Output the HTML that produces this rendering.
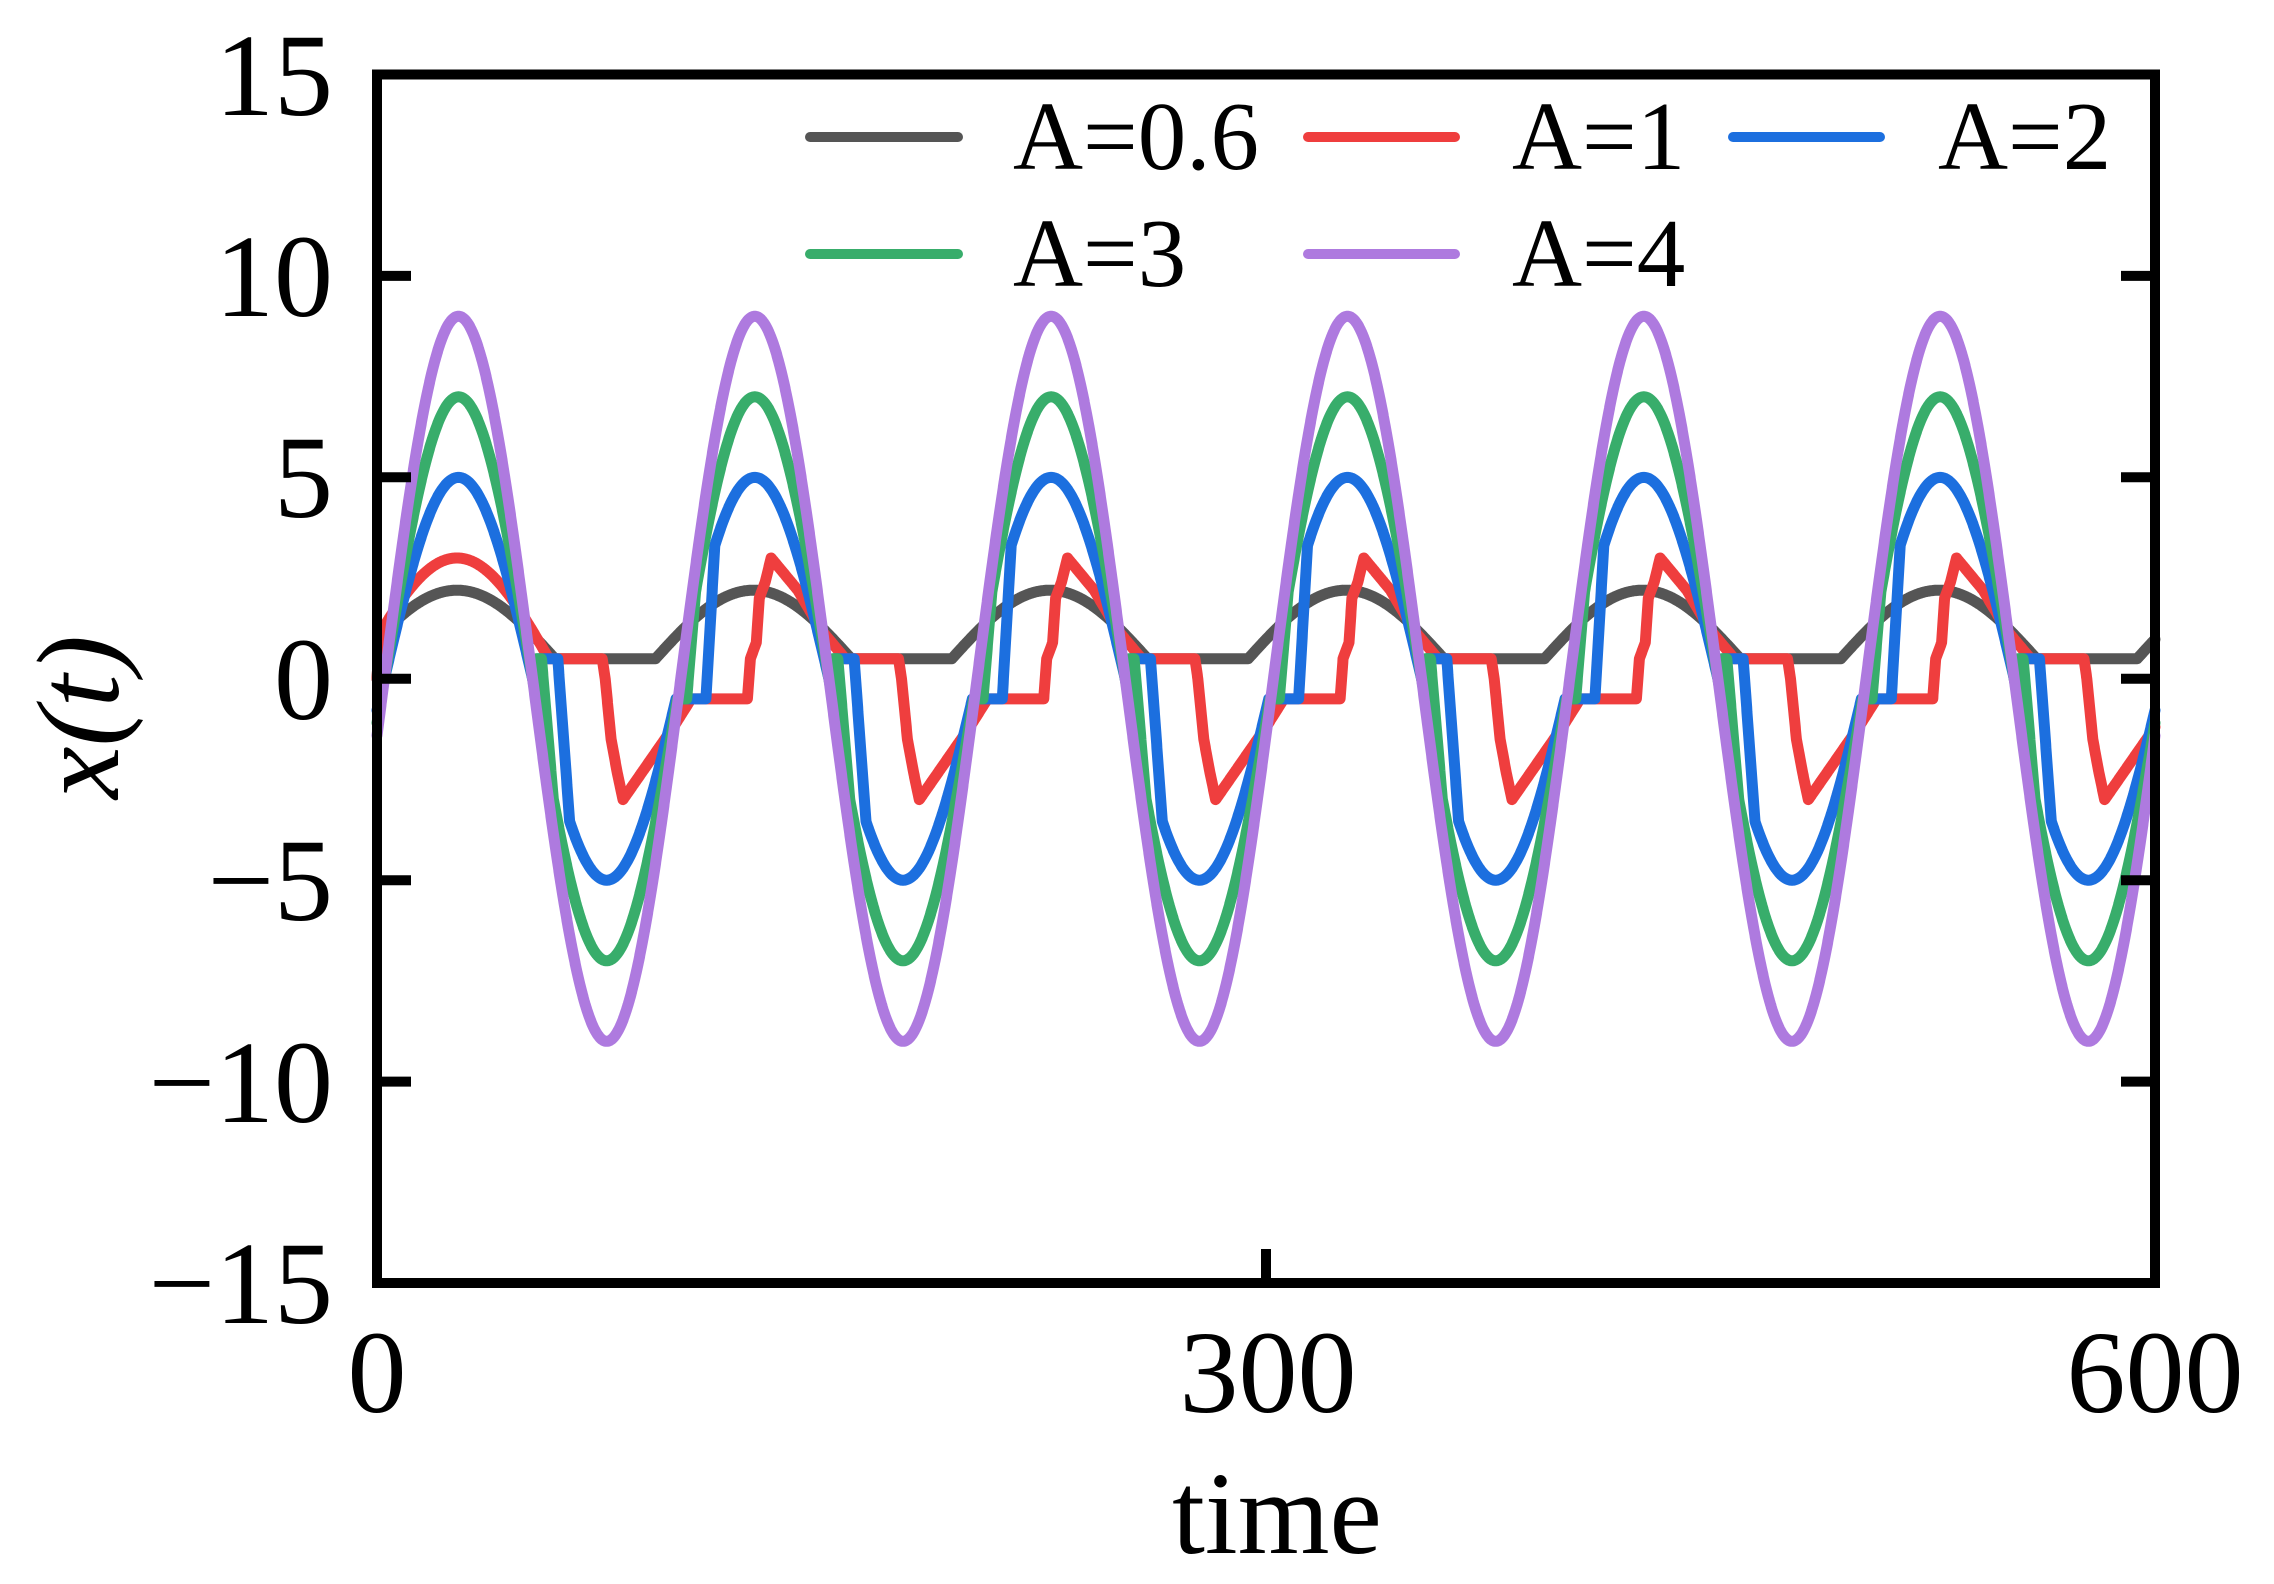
<!DOCTYPE html>
<html><head><meta charset="utf-8"><style>
html,body{margin:0;padding:0;background:#fff;}
svg{display:block;}
text{font-family:"Liberation Serif",serif;fill:#000;}
</style></head><body>
<svg id="s" width="2274" height="1584" viewBox="0 0 2274 1584" xmlns="http://www.w3.org/2000/svg">
<g id="curves" fill="none" stroke-width="11" stroke-linejoin="round" stroke-linecap="round"></g>
<g stroke="#000" stroke-width="10" fill="none">
<rect x="377" y="74.5" width="1778" height="1208.5"/>
<path d="M377 275.9h34M377 477.3h34M377 678.8h34M377 880.2h34M377 1081.6h34M2155 275.9h-34M2155 477.3h-34M2155 678.8h-34M2155 880.2h-34M2155 1081.6h-34M1266 1283v-34"/>
</g>
<g font-size="118" text-anchor="end">
<text x="333" y="115">15</text>
<text x="333" y="316">10</text>
<text x="333" y="517">5</text>
<text x="333" y="719">0</text>
<text x="333" y="920">−5</text>
<text x="333" y="1122">−10</text>
<text x="333" y="1323">−15</text>
</g>
<g font-size="118" text-anchor="middle">
<text x="377" y="1412">0</text>
<text x="1268" y="1412">300</text>
<text x="2155" y="1412">600</text>
<text x="1277" y="1553">time</text>
</g>
<text font-size="118" font-style="italic" text-anchor="middle" transform="translate(118,717) rotate(-90)">x(t)</text>
<g stroke-width="10" stroke-linecap="round">
<line x1="810" y1="137" x2="958" y2="137" stroke="#555555"/>
<line x1="1308" y1="137" x2="1455" y2="137" stroke="#ef3e3e"/>
<line x1="1733" y1="137" x2="1880" y2="137" stroke="#1c6fdf"/>
<line x1="810" y1="254" x2="958" y2="254" stroke="#38ad6b"/>
<line x1="1308" y1="254" x2="1455" y2="254" stroke="#ae7adf"/>
</g>
<g font-size="97">
<text x="1013" y="169">A=0.6</text>
<text x="1512" y="169">A=1</text>
<text x="1938" y="169">A=2</text>
<text x="1013" y="286">A=3</text>
<text x="1512" y="286">A=4</text>
</g>
</svg>
<script>
(function(){
var X=function(t){return 377+t*1778/600;};
var Y=function(v){return 678.8-v*40.28;};
var TW=2*Math.PI;
function base(a,t){return a*Math.sin(TW*(t-2.5)/100);}
function gray(t){
  if(t<0.8) return t/0.8*0.95;
  var p=((t-27)%100+100)%100; if(p>50)p-=100;
  if(Math.abs(p)<33) return 0.5+1.7*Math.cos(Math.PI/2*p/33);
  return 0.5;
}
function lerp(pts,p){
  for(var i=0;i<pts.length-1;i++){
    if(p>=pts[i][0]&&p<=pts[i+1][0]){var f=(p-pts[i][0])/(pts[i+1][0]-pts[i][0]);return pts[i][1]+f*(pts[i+1][1]-pts[i][1]);}
  }
  return pts[pts.length-1][1];
}
var redP=[[0,-1.2],[6,-0.5],[25,-0.5],[26,0.5],[28,0.9],[29,2.0],[31,2.4],[33,3.0],[42,2.2],[50,1.2],[58,0.5],[76,0.5],[77,0],[79,-1.5],[81,-2.3],[83,-3.0],[100,-1.2]];
function red(t){
  if(t<1) return t*1.2;
  if(t<58) return 0.5+2.5*Math.cos(Math.PI/2*(t-27)/31);
  return lerp(redP,t%100);
}
function hold(a,t,tEndDown,tEndUp){
  var b=base(a,t); if(t<20) return b;
  var p=t%100;
  var d=2.5+50+100/TW*Math.asin(0.5/a);
  var u=2.5+100-100/TW*Math.asin(0.5/a);
  if(p>=d&&p<tEndDown) return 0.5;
  if(p>=tEndDown&&p<tEndDown+4){var f=(p-tEndDown)/4;return 0.5+f*(base(a,t-p+tEndDown+4)-0.5);}
  var q=p<20?p+100:p;
  if(q>=u&&q<tEndUp) return -0.5;
  if(q>=tEndUp&&q<tEndUp+3){var f2=(q-tEndUp)/3;return -0.5+f2*(base(a,t-q+tEndUp+3)+0.5);}
  return b;
}
var series=[
 ["#555555",gray],
 ["#ef3e3e",red],
 ["#1c6fdf",function(t){return hold(5,t,61,111);}],
 ["#38ad6b",function(t){return hold(7,t,55.5,104.5);}],
 ["#ae7adf",function(t){return base(9,t);}]
];
var g=document.getElementById('curves');
series.forEach(function(s){
  var d='';
  for(var i=0;i<=6000;i++){var t=i/10;d+=(i?'L':'M')+X(t).toFixed(1)+' '+Y(s[1](t)).toFixed(1);}
  var p=document.createElementNS('http://www.w3.org/2000/svg','path');
  p.setAttribute('d',d);p.setAttribute('stroke',s[0]);g.appendChild(p);
});
})();
</script>
</body></html>
